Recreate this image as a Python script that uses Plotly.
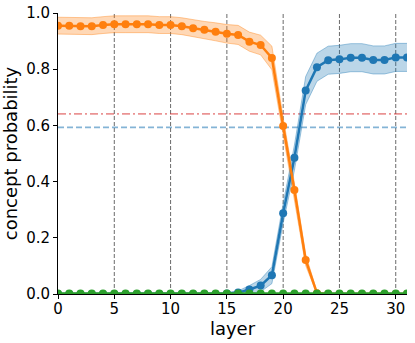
import plotly.graph_objects as go

layers = list(range(32))
orange = [0.955, 0.955, 0.953, 0.953, 0.957, 0.960, 0.960, 0.960, 0.960, 0.957,
          0.957, 0.953, 0.946, 0.940, 0.933, 0.926, 0.922, 0.898, 0.886, 0.840,
          0.598, 0.370, 0.121, 0.003, 0.0, 0.0, 0.0, 0.0, 0.0, 0.0, 0.0, 0.0]
orange_err = [0.03, 0.03, 0.03, 0.03, 0.03, 0.03, 0.03, 0.03, 0.03, 0.03,
              0.03, 0.03, 0.03, 0.03, 0.032, 0.033, 0.034, 0.034, 0.035, 0.042,
              0.03, 0.025, 0.02, 0.005, 0.0, 0.0, 0.0, 0.0, 0.0, 0.0, 0.0, 0.0]
blue = [0.0] * 15 + [0.002, 0.005, 0.016, 0.030, 0.067, 0.287, 0.485, 0.724, 0.807,
                     0.832, 0.835, 0.841, 0.841, 0.833, 0.833, 0.842, 0.842]
blue_err = [0.0] * 15 + [0.002, 0.006, 0.014, 0.022, 0.03, 0.035, 0.045, 0.05, 0.05,
                         0.05, 0.05, 0.05, 0.05, 0.05, 0.05, 0.05, 0.05]
green = [0.002] * 32
hline_red = 0.641
hline_blue = 0.593
vlines = [5, 10, 15, 20, 25, 30]

C_BLUE = "#1f77b4"
C_ORANGE = "#ff7f0e"
C_GREEN = "#2ca02c"

fig = go.Figure()

def band(y, err, edge, fill):
    up = [a + e for a, e in zip(y, err)]
    lo = [max(a - e, 0) for a, e in zip(y, err)]
    fig.add_trace(go.Scatter(x=layers, y=lo, mode="lines",
                             line=dict(color=edge, width=1), showlegend=False, hoverinfo="skip"))
    fig.add_trace(go.Scatter(x=layers, y=up, mode="lines", fill="tonexty", fillcolor=fill,
                             line=dict(color=edge, width=1), showlegend=False, hoverinfo="skip"))

band(orange, orange_err, "rgba(255,127,14,0.4)", "rgba(255,127,14,0.3)")
band(blue, blue_err, "rgba(31,119,180,0.4)", "rgba(31,119,180,0.3)")

for v in vlines:
    fig.add_shape(type="line", x0=v, x1=v, y0=0, y1=1, xref="x", yref="y",
                  line=dict(color="rgba(70,70,70,0.8)", width=1, dash="4px,2px"), layer="below")

fig.add_shape(type="line", x0=0, x1=31, y0=hline_red, y1=hline_red, xref="x", yref="y",
              line=dict(color="rgba(214,39,40,0.5)", width=1.6, dash="8px,3px,2px,3px"), layer="below")
fig.add_shape(type="line", x0=0, x1=31, y0=hline_blue, y1=hline_blue, xref="x", yref="y",
              line=dict(color="rgba(31,119,180,0.55)", width=1.6, dash="6px,3px"), layer="below")

for ys, c in [(blue, C_BLUE), (orange, C_ORANGE), (green, C_GREEN)]:
    fig.add_trace(go.Scatter(x=layers, y=ys, mode="lines+markers",
                             line=dict(color=c, width=2.5), marker=dict(size=8, color=c),
                             showlegend=False))

font = dict(family="DejaVu Sans", size=15, color="black")
fig.update_layout(
    width=415, height=343,
    margin=dict(l=58, r=8, t=13, b=49),
    plot_bgcolor="white", paper_bgcolor="white",
    font=font,
    xaxis=dict(range=[0, 31], tickvals=[0, 5, 10, 15, 20, 25, 30], showgrid=False, zeroline=False,
               showline=True, linecolor="black", linewidth=1, ticks="outside", ticklen=4,
               tickcolor="black", title=dict(text="layer", standoff=4), tickfont=font,
               ticklabelstandoff=-3, automargin=False),
    yaxis=dict(range=[0, 1], tickvals=[0, 0.2, 0.4, 0.6, 0.8, 1.0],
               ticktext=["0.0", "0.2", "0.4", "0.6", "0.8", "1.0"], showgrid=False, zeroline=False,
               showline=True, linecolor="black", linewidth=1, ticks="outside", ticklen=4,
               tickcolor="black", title=dict(text="concept probability", standoff=5), tickfont=font,
               automargin=False),
)

fig.write_html("out.html", config={"displayModeBar": False},
               post_script="document.body.style.margin='0';")
